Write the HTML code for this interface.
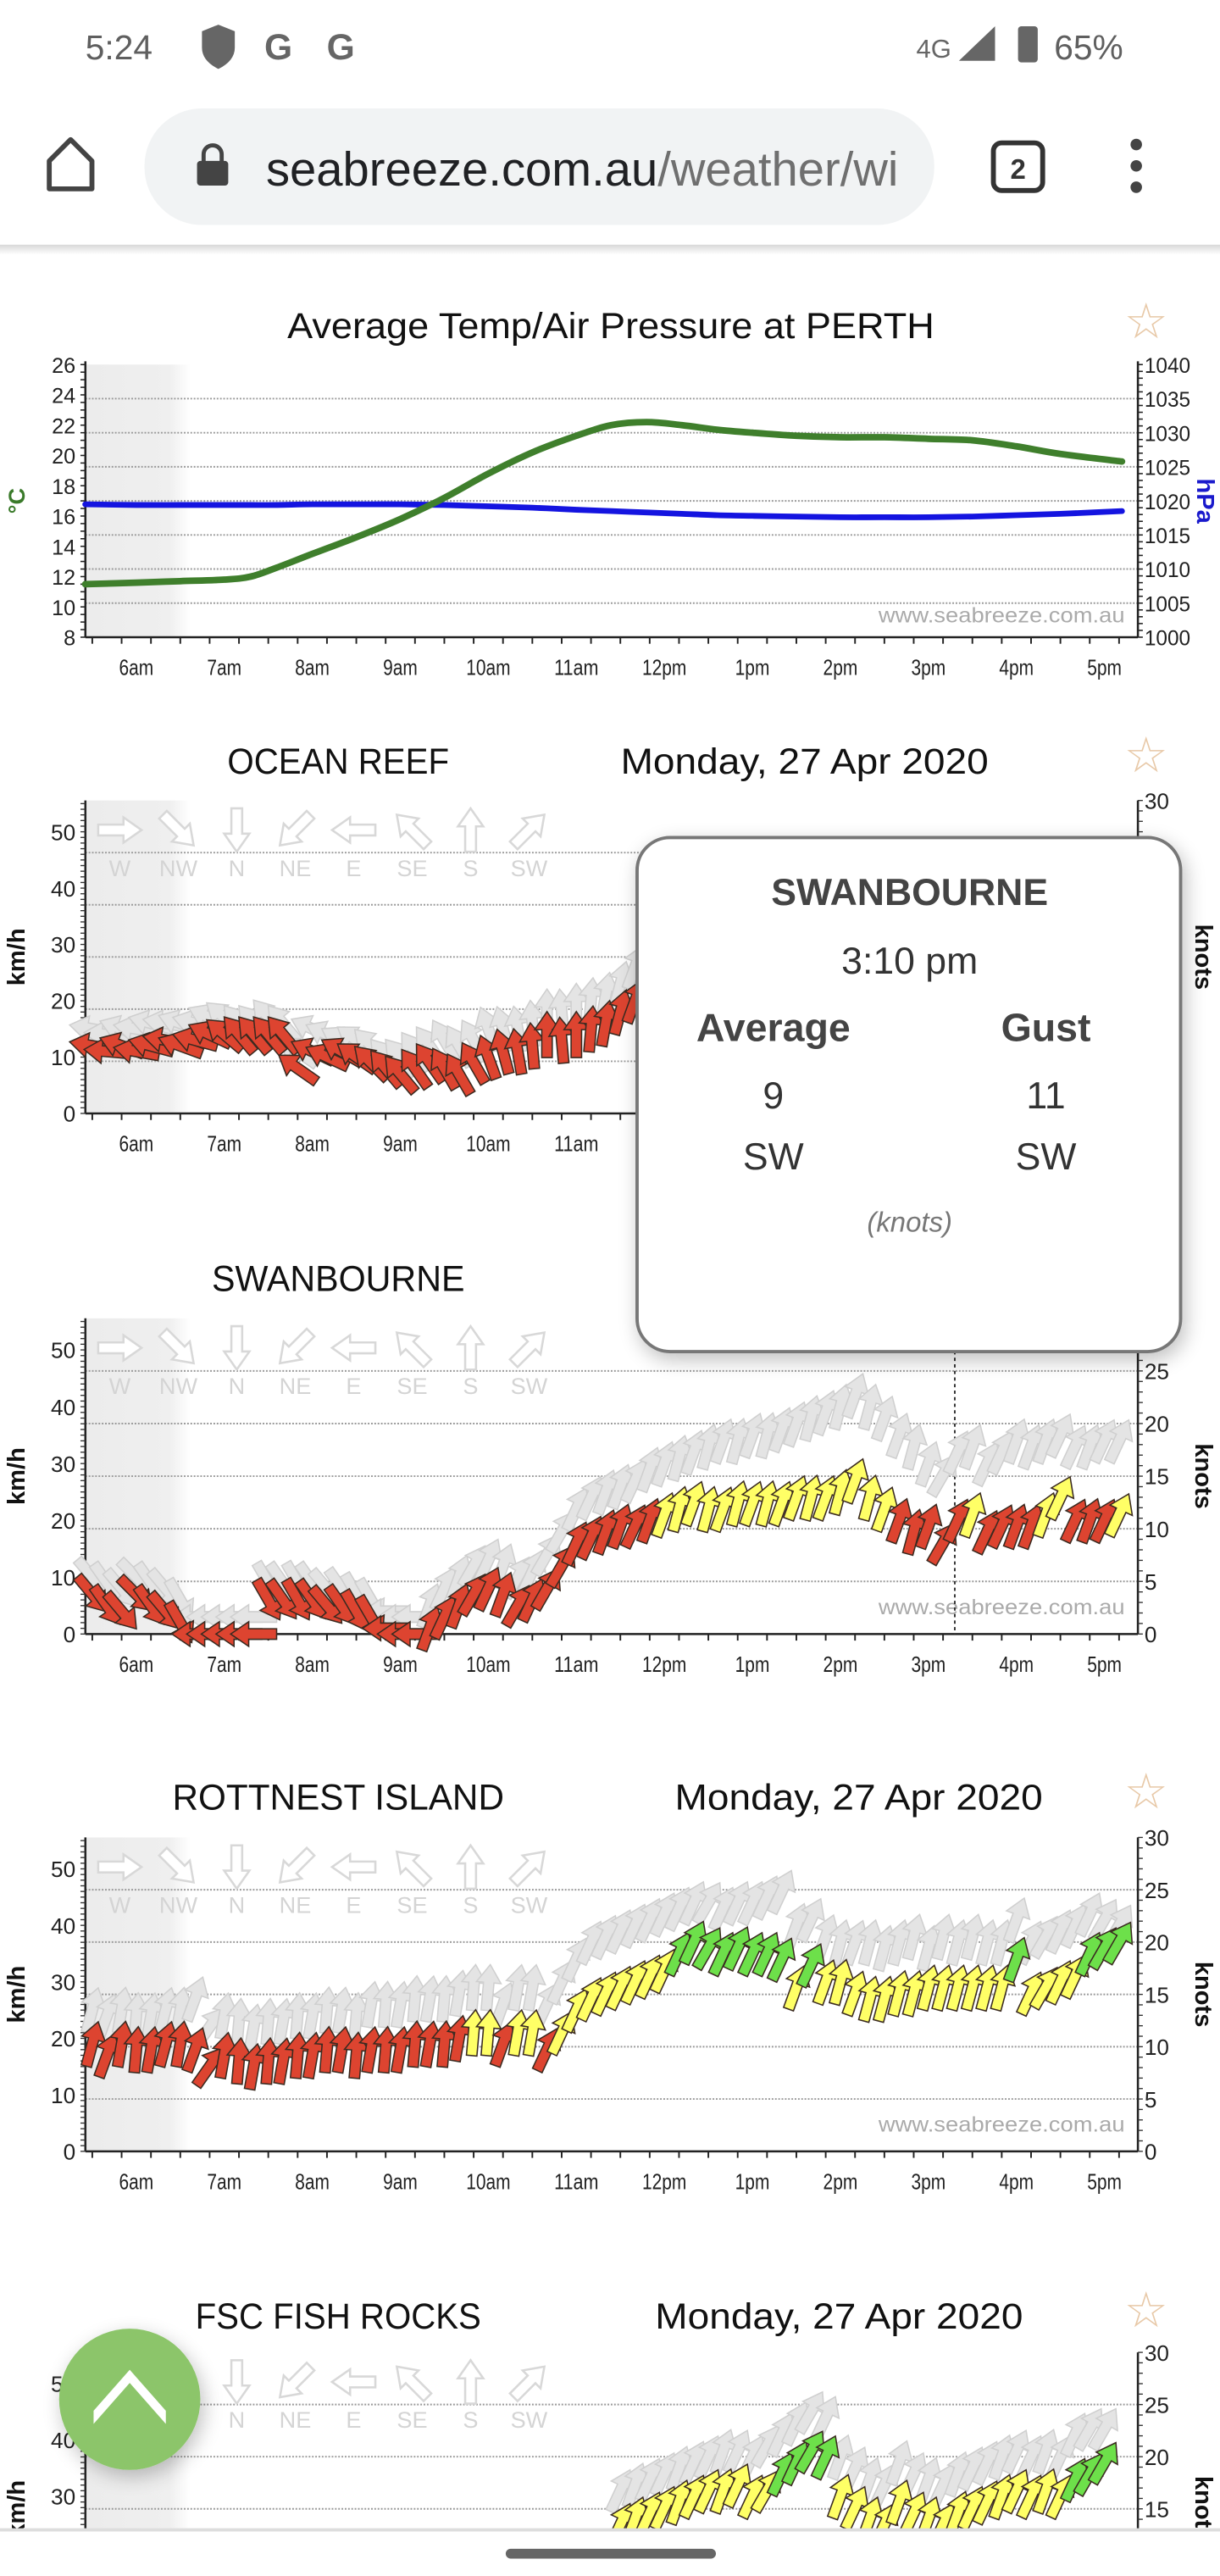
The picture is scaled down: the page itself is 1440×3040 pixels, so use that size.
<!DOCTYPE html>
<html><head><meta charset="utf-8">
<style>
html,body{margin:0;padding:0;background:#fff;width:1440px;height:3040px;overflow:hidden}
svg{display:block}
text{font-family:"Liberation Sans",sans-serif}
</style></head>
<body>
<svg id="page" width="1440" height="3040" viewBox="0 0 743 1568.6" preserveAspectRatio="none" xmlns="http://www.w3.org/2000/svg">
<defs>
  <linearGradient id="night" x1="0" x2="1" y1="0" y2="0">
    <stop offset="0" stop-color="#ececec"/><stop offset="0.8" stop-color="#efefef"/><stop offset="1" stop-color="#ffffff"/>
  </linearGradient>
  <linearGradient id="divider" x1="0" x2="0" y1="0" y2="1">
    <stop offset="0" stop-color="#d8d8d8"/><stop offset="1" stop-color="#ffffff"/>
  </linearGradient>
  <filter id="shadow" x="-20%" y="-20%" width="140%" height="140%">
    <feGaussianBlur in="SourceAlpha" stdDeviation="6"/><feOffset dx="2" dy="4"/>
    <feComponentTransfer><feFuncA type="linear" slope="0.25"/></feComponentTransfer>
    <feMerge><feMergeNode/><feMergeNode in="SourceGraphic"/></feMerge>
  </filter>
</defs>

<g>
  <text x="52" y="36" font-size="21" fill="#5f5f5f">5:24</text>
  <path d="M133,15 l10,4 v10 q0,8 -10,13 q-10,-5 -10,-13 v-10z" fill="#666"/>
  <text x="161" y="36" font-size="22" font-weight="bold" fill="#666">G</text>
  <text x="199" y="36" font-size="22" font-weight="bold" fill="#666">G</text>
  <text x="558" y="35" font-size="16" fill="#666">4G</text>
  <path d="M584,37 L606,16 V37z" fill="#666"/>
  <rect x="620" y="16" width="12" height="22" rx="2" fill="#666"/>
  <text x="642" y="36" font-size="21" fill="#5f5f5f">65%</text>
</g>

<g>
  <path d="M30,98 L43,85 L56,98 V115 H30z" fill="none" stroke="#444" stroke-width="3" stroke-linejoin="round"/>
  <rect x="88" y="66" width="481" height="71" rx="35" fill="#f1f3f4"/>
  <rect x="120" y="98" width="19" height="15" rx="2" fill="#444"/>
  <path d="M124,99 v-5 a5.5,5.5 0 0 1 11,0 v5" fill="none" stroke="#444" stroke-width="2.5"/>
  <text x="162" y="113" font-size="29"><tspan fill="#202124">seabreeze.com.au</tspan><tspan fill="#6f6f6f">/weather/wi</tspan></text>
  <rect x="605" y="87" width="30" height="29" rx="5" fill="none" stroke="#333" stroke-width="3"/>
  <text x="620" y="109" font-size="17" font-weight="bold" text-anchor="middle" fill="#333">2</text>
  <g fill="#444">
    <circle cx="692" cy="88" r="3.5"/><circle cx="692" cy="101" r="3.5"/><circle cx="692" cy="114" r="3.5"/>
  </g>
  <rect x="0" y="149" width="743" height="6" fill="url(#divider)"/>
</g>

<g id="charts"></g>
<g id="overlay"></g>
</svg>

<script>
const tempTimes = [5.42,6,6.5,7,7.3,7.6,8,8.5,9,9.5,10,10.5,11,11.4,11.8,12.2,12.6,13,13.5,14,14.5,15,15.5,16,16.5,17.2];
const tempValues = [11.5,11.6,11.7,11.8,12,12.6,13.5,14.6,15.8,17.2,18.8,20.2,21.3,22,22.2,22,21.7,21.5,21.3,21.2,21.2,21.1,21,20.6,20.1,19.6];
const pressureValues = [1019.5,1019.4,1019.4,1019.4,1019.4,1019.4,1019.5,1019.5,1019.5,1019.4,1019.2,1019,1018.7,1018.5,1018.3,1018.1,1017.9,1017.8,1017.7,1017.6,1017.6,1017.6,1017.7,1017.9,1018.1,1018.5];
const tempTicks = [8,10,12,14,16,18,20,22,24,26];
const pressureTicks = [1000,1005,1010,1015,1020,1025,1030,1035,1040];
const hourTicks = [6,7,8,9,10,11,12,13,14,15,16,17];
const hourLabels = ["6am","7am","8am","9am","10am","11am","12pm","1pm","2pm","3pm","4pm","5pm"];

const SAMPLE_STEP = 1/6;
const oceanStart = 5.5;
const oceanSpeed = [12,11,12,11,12,13,12,13,14,14,14,14,14,14,8,11,10,11,10,9,8,7,8,9,8,7,9,10,11,11,12,14,13,14,15,16,18,20];
const oceanDir = [100,95,110,100,105,100,110,105,115,130,140,140,140,140,125,115,115,120,125,135,140,140,145,145,150,150,150,160,165,170,175,180,175,180,185,190,195,200];
const oceanGust = [15,14,15,15,16,16,16,16,17,17,16,16,17,16,11,15,14,13,13,12,10,10,11,12,13,12,13,15,15,15,16,18,18,19,20,21,23,26];

const swanStart = 5.5;
const swanSpeed = [7,5,4,7,5,4,2,0,0,0,0,0,6,6,6,6,5,5,4,3,1,0,0,1,3,5,7,8,7,5,6,8,12,16,17,18,19,19,20,21,22,23,22,22,23,23,23,23,24,24,24,25,27,24,22,20,18,19,16,20,21,18,19,19,19,21,24,20,20,20,21];
const swanDir = [320,325,320,315,325,320,330,90,90,90,90,90,330,325,330,325,320,325,330,330,90,90,90,200,205,200,210,205,200,210,205,210,210,205,205,200,200,205,200,200,195,200,195,200,195,200,195,200,200,195,200,195,200,195,200,200,195,200,210,205,200,205,205,200,200,200,205,205,200,205,205];
const swanGust = [10,9,8,10,9,8,6,3,3,3,3,3,9,9,9,9,8,8,7,6,4,3,3,5,8,10,12,13,12,10,11,14,18,22,24,25,26,27,29,30,31,32,33,34,34,35,35,36,37,38,39,40,42,40,38,35,33,30,28,32,33,30,32,34,33,34,35,33,33,34,34];

const rottStart = 5.5;
const rottSpeed = [19,17,19,18,18,19,19,18,15,17,16,15,16,16,17,17,18,18,17,18,18,18,19,19,19,20,21,21,19,21,21,18,21,25,27,28,29,30,31,32,35,37,36,35,36,35,35,34,29,33,30,30,28,27,27,28,28,29,29,29,29,29,29,34,28,29,30,31,35,36,37];
const rottDir = [195,200,190,185,190,195,190,200,215,190,185,190,185,190,185,190,185,190,185,190,185,190,185,190,185,190,185,185,200,190,190,205,205,205,205,205,205,205,205,205,205,205,210,205,205,205,205,205,200,205,200,195,200,195,195,195,195,195,195,195,195,195,195,200,205,210,205,205,205,210,210];
const rottGust = [25,24,25,24,24,25,25,27,22,24,23,22,23,23,24,24,25,25,24,26,26,26,27,27,27,28,29,29,26,29,29,26,30,34,37,38,39,40,41,42,43,44,44,43,44,44,45,46,40,41,38,37,37,37,36,37,38,36,38,37,38,37,37,41,37,38,39,40,42,41,40];

const fishStart = 11.5;
const fishSpeed = [25,26,27,28,29,30,31,31,32,30,31,34,36,38,37,30,28,26,25,29,27,26,25,27,28,29,30,31,30,31,30,33,34,36];
const fishDir = [205,200,205,205,200,205,205,200,205,205,210,205,205,210,205,200,205,200,205,200,205,200,205,200,205,205,200,205,205,200,205,205,210,210];
const fishGust = [31,32,33,34,35,36,37,38,38,37,39,41,43,45,44,37,35,33,32,36,34,33,32,34,35,36,37,38,37,38,37,41,42,42];

const kmhTicks = [0,10,20,30,40,50];
const knotTicks = [0,5,10,15,20,25,30];
const legendDirs = [270,315,0,45,90,135,180,225];
const legendLabels = ["W","NW","N","NE","E","SE","S","SW"];

const NS = "http://www.w3.org/2000/svg";
const charts = document.getElementById('charts');
const overlay = document.getElementById('overlay');
const PLOT_L = 52, PLOT_R = 693;
function xOf(t){ return 83 + (t - 6) * 53.6; }
function mk(tag, parent, attrs){
  const e = document.createElementNS(NS, tag);
  for (const k in attrs) e.setAttribute(k, attrs[k]);
  parent.appendChild(e);
  return e;
}
function txt(parent, x, y, s, attrs){
  const e = mk('text', parent, Object.assign({x:x, y:y}, attrs||{}));
  e.textContent = s;
  return e;
}
const ARROW = "0,-14 7.5,-3 3.2,-3 3.2,14 -3.2,14 -3.2,-3 -7.5,-3";
const LEGEND_ARROW = "0,-12 7,-2 3,-2 3,12 -3,12 -3,-2 -7,-2";

function xAxis(g, yBase){
  const ax = mk('line', g, {x1:PLOT_L, x2:PLOT_R, y1:yBase, y2:yBase, stroke:'#222', 'stroke-width':1.3});
  
  
  for (let t = 5.5; t <= 17.35; t += 1/3){
    const major = Math.abs(t - Math.round(t)) < 0.01;
    mk('line', g, {x1:xOf(t), x2:xOf(t), y1:yBase, y2:yBase + (major?8:4), stroke:'#222', 'stroke-width':1});
  }
  hourTicks.forEach((h, i) => {
    const l = txt(g, xOf(h), yBase + 23, hourLabels[i], {'font-size':13.5, 'text-anchor':'middle', fill:'#222', 'textLength': hourLabels[i].length > 3 ? 27 : 21, lengthAdjust:'spacingAndGlyphs'});
    
    
  });
}

(function(){
  const g = mk('g', charts, {});
  
  
  const top = 222, bot = 388;
  const yT = v => bot - (v - 8) * (bot - top) / 18;
  const yP = v => bot - (v - 1000) * (bot - top) / 40;
  const title = txt(g, 372, 206, 'Average Temp/Air Pressure at PERTH', {'font-size':22, 'text-anchor':'middle', fill:'#111', textLength:394, lengthAdjust:'spacingAndGlyphs'});
  
  
  const night = mk('rect', g, {x:PLOT_L, y:top, width:64, height:bot-top, fill:'url(#night)'});
  
  
  pressureTicks.forEach(p => {
    if (p > 1000 && p < 1040){
      const gl = mk('line', g, {x1:PLOT_L, x2:PLOT_R, y1:yP(p), y2:yP(p), stroke:'#999', 'stroke-width':1, 'stroke-dasharray':'1 1'});
      
      
    }
  });
  const la = mk('line', g, {x1:PLOT_L, x2:PLOT_L, y1:top-2, y2:bot, stroke:'#222', 'stroke-width':1.3});
  
  
  const ra = mk('line', g, {x1:PLOT_R, x2:PLOT_R, y1:top-2, y2:bot, stroke:'#222', 'stroke-width':1.3});
  
  
  for (let v = 8; v <= 26; v += 0.5) mk('line', g, {x1:PLOT_L-3, x2:PLOT_L, y1:yT(v), y2:yT(v), stroke:'#222', 'stroke-width':0.8});
  for (let v = 1000; v <= 1040; v += 1) mk('line', g, {x1:PLOT_R, x2:PLOT_R+3, y1:yP(v), y2:yP(v), stroke:'#222', 'stroke-width':0.8});
  tempTicks.forEach(v => {
    const l = txt(g, 46, yT(v) + 5, String(v), {'font-size':13, 'text-anchor':'end', fill:'#222'});
    
    
  });
  pressureTicks.forEach(v => {
    const l = txt(g, 697, yP(v) + 5, String(v), {'font-size':13, fill:'#222', textLength:28, lengthAdjust:'spacingAndGlyphs'});
    
    
  });
  xAxis(g, bot);
  const yl = txt(g, 0, 0, '°C', {'font-size':14, 'font-weight':'bold', fill:'#3a7a2a', 'text-anchor':'middle', transform:'translate(15,305) rotate(-90)'});
  
  
  const yr = txt(g, 0, 0, 'hPa', {'font-size':15, 'font-weight':'bold', fill:'#1a1acc', 'text-anchor':'middle', transform:'translate(729,305) rotate(90)'});
  
  
  const wm = txt(g, 685, 379, 'www.seabreeze.com.au', {'font-size':13, fill:'#aaa', 'text-anchor':'end', textLength:150, lengthAdjust:'spacingAndGlyphs'});
  
  
  function smoothPath(ys){
    const pts = tempTimes.map((t, i) => [xOf(t), ys[i]]);
    let d = 'M' + pts[0][0] + ',' + pts[0][1];
    for (let i = 0; i < pts.length - 1; i++){
      const p0 = pts[Math.max(0, i-1)], p1 = pts[i], p2 = pts[i+1], p3 = pts[Math.min(pts.length-1, i+2)];
      const c1 = [p1[0] + (p2[0]-p0[0])/6, p1[1] + (p2[1]-p0[1])/6];
      const c2 = [p2[0] - (p3[0]-p1[0])/6, p2[1] - (p3[1]-p1[1])/6];
      d += ' C' + c1.join(',') + ' ' + c2.join(',') + ' ' + p2.join(',');
    }
    return d;
  }
  const pl = mk('path', g, {d:smoothPath(pressureValues.map(yP)), fill:'none', stroke:'#1414e0', 'stroke-width':3.5, 'stroke-linecap':'round'});
  
  
  const tl = mk('path', g, {d:smoothPath(tempValues.map(yT)), fill:'none', stroke:'#3f7f2c', 'stroke-width':4, 'stroke-linecap':'round'});
  
  
  const star = txt(g, 698, 206, '☆', {'font-size':30, 'text-anchor':'middle', fill:'#e8c9a8'});
  
  
})();

function windChart(cfg){
  const g = mk('g', charts, {});
  
  
  const y0 = cfg.y0, s = cfg.scale;
  const yK = v => y0 - v * s;
  const top = yK(55.56);
  const t1 = txt(g, 206, cfg.titleY, cfg.title, {'font-size':22, 'text-anchor':'middle', fill:'#111', textLength:cfg.titleW, lengthAdjust:'spacingAndGlyphs'});
  
  
  if (cfg.date){
    const t2 = txt(g, cfg.dateX, cfg.titleY, 'Monday, 27 Apr 2020', {'font-size':22, 'text-anchor':'middle', fill:'#111', textLength:224, lengthAdjust:'spacingAndGlyphs'});
    
    
  }
  const star = txt(g, 698, cfg.titleY - 1, '☆', {'font-size':30, 'text-anchor':'middle', fill:'#e8c9a8'});
  
  
  const night = mk('rect', g, {x:PLOT_L, y:top, width:64, height:y0-top, fill:'url(#night)'});
  
  
  knotTicks.forEach(k => {
    if (k > 0 && k < 30){
      const gl = mk('line', g, {x1:PLOT_L, x2:PLOT_R, y1:yK(k*1.852), y2:yK(k*1.852), stroke:'#999', 'stroke-width':1, 'stroke-dasharray':'1 1'});
      
      
    }
  });
  legendDirs.forEach((d, i) => {
    const lx = 73 + i * 35.6;
    const a = mk('polygon', g, {points:LEGEND_ARROW, fill:'#fff', stroke:'#d8d8d8', 'stroke-width':1.2, transform:'translate(' + lx + ',' + (top + 18) + ') rotate(' + (d + 180) + ') scale(1.1)'});
    
    
    const l = txt(g, lx, top + 46, legendLabels[i], {'font-size':14, 'text-anchor':'middle', fill:'#d4d4d4'});
    
    
  });
  const la = mk('line', g, {x1:PLOT_L, x2:PLOT_L, y1:top, y2:y0, stroke:'#222', 'stroke-width':1.3});
  
  
  const ra = mk('line', g, {x1:PLOT_R, x2:PLOT_R, y1:top, y2:y0, stroke:'#222', 'stroke-width':1.3});
  
  
  for (let v = 0; v <= 55; v += 1) mk('line', g, {x1:PLOT_L-3, x2:PLOT_L, y1:yK(v), y2:yK(v), stroke:'#333', 'stroke-width':0.7});
  for (let k = 0; k <= 30; k += 1) mk('line', g, {x1:PLOT_R, x2:PLOT_R+3, y1:yK(k*1.852), y2:yK(k*1.852), stroke:'#333', 'stroke-width':0.7});
  kmhTicks.forEach(v => {
    const l = txt(g, 46, yK(v) + 5, String(v), {'font-size':13.5, 'text-anchor':'end', fill:'#222'});
    
    
  });
  knotTicks.forEach(k => {
    const l = txt(g, 697, yK(k*1.852) + 5, String(k), {'font-size':13.5, fill:'#222'});
    
    
  });
  xAxis(g, y0);
  const ymid = (top + y0) / 2;
  const yl = txt(g, 0, 0, 'km/h', {'font-size':15, 'font-weight':'bold', fill:'#111', 'text-anchor':'middle', transform:'translate(15,' + ymid + ') rotate(-90)'});
  
  
  const yr = txt(g, 0, 0, 'knots', {'font-size':15, 'font-weight':'bold', fill:'#111', 'text-anchor':'middle', transform:'translate(728,' + ymid + ') rotate(90)'});
  
  
  const wm = txt(g, 685, y0 - 12, 'www.seabreeze.com.au', {'font-size':13, fill:'#aaa', 'text-anchor':'end', textLength:150, lengthAdjust:'spacingAndGlyphs'});
  
  
  if (cfg.cursorT){
    const cl = mk('line', g, {x1:xOf(cfg.cursorT), x2:xOf(cfg.cursorT), y1:top, y2:y0, stroke:'#333', 'stroke-width':1, 'stroke-dasharray':'2 2'});
    
    
  }
  cfg.gust.forEach((v, i) => {
    const t = cfg.start + i * SAMPLE_STEP;
    const a = mk('polygon', g, {points:ARROW, fill:'#e4e4e4', stroke:'#cfcfcf', 'stroke-width':0.8, transform:'translate(' + xOf(t) + ',' + yK(v) + ') rotate(' + (cfg.dir[i] + 180) + ')'});
    
    
  });
  cfg.speed.forEach((v, i) => {
    const t = cfg.start + i * SAMPLE_STEP;
    const col = v < 21 ? '#dd4430' : (v < 33 ? '#ffff66' : '#6de04a');
    const a = mk('polygon', g, {points:ARROW, fill:col, stroke:'#3a2a20', 'stroke-width':0.8, transform:'translate(' + xOf(t) + ',' + yK(v) + ') rotate(' + (cfg.dir[i] + 180) + ')'});
    
    
  });
}

windChart({name:'ocean-reef-chart', title:'OCEAN REEF', titleW:135, date:true, dateX:490, titleY:471, y0:678, scale:3.43, start:oceanStart, speed:oceanSpeed, dir:oceanDir, gust:oceanGust});
windChart({name:'swanbourne-chart', title:'SWANBOURNE', titleW:154, date:false, dateX:490, titleY:786, y0:995, scale:3.46, start:swanStart, speed:swanSpeed, dir:swanDir, gust:swanGust, cursorT:15.3});
windChart({name:'rottnest-island-chart', title:'ROTTNEST ISLAND', titleW:202, date:true, dateX:523, titleY:1102, y0:1310, scale:3.44, start:rottStart, speed:rottSpeed, dir:rottDir, gust:rottGust});
windChart({name:'fsc-fish-rocks-chart', title:'FSC FISH ROCKS', titleW:174, date:true, dateX:511, titleY:1418, y0:1623, scale:3.43, start:fishStart, speed:fishSpeed, dir:fishDir, gust:fishGust});

(function(){
  const tip = mk('g', overlay, {});
  
  
  const r = mk('rect', tip, {x:388, y:510, width:331, height:313, rx:20, fill:'#fff', stroke:'#777', 'stroke-width':2, filter:'url(#shadow)'});
  
  
  const rows = [
    ['SWANBOURNE', 554, 551, 23, '600', '#444', 'normal', 'tooltip-station'],
    ['3:10 pm', 554, 593, 23, 'normal', '#333', 'normal', 'tooltip-time'],
    ['Average', 471, 634, 24, '600', '#444', 'normal', 'tooltip-average-header'],
    ['Gust', 637, 634, 24, '600', '#444', 'normal', 'tooltip-gust-header'],
    ['9', 471, 675, 23, 'normal', '#333', 'normal', 'tooltip-average-speed'],
    ['11', 637, 675, 23, 'normal', '#333', 'normal', 'tooltip-gust-speed'],
    ['SW', 471, 712, 23, 'normal', '#333', 'normal', 'tooltip-average-direction'],
    ['SW', 637, 712, 23, 'normal', '#333', 'normal', 'tooltip-gust-direction'],
    ['(knots)', 554, 750, 17, 'normal', '#777', 'italic', 'tooltip-units']
  ];
  rows.forEach(rw => {
    const t = txt(tip, rw[1], rw[2], rw[0], {'font-size':rw[3], 'font-weight':rw[4], fill:rw[5], 'font-style':rw[6], 'text-anchor':'middle'});
    
    
  });

  const btn = mk('g', overlay, {});
  
  
  mk('circle', btn, {cx:79, cy:1461, r:43, fill:'#8cc56b', filter:'url(#shadow)'});
  mk('path', btn, {d:'M57,1476 L79,1451 L101,1476 L101,1468 L79,1443 L57,1468 Z', fill:'#fff'});

  const nav = mk('g', overlay, {});
  
  
  mk('rect', nav, {x:0, y:1540, width:743, height:28.6, fill:'#fff'});
  mk('line', nav, {x1:0, x2:743, y1:1540.5, y2:1540.5, stroke:'#ddd', 'stroke-width':2});
  const pill = mk('rect', nav, {x:308, y:1552, width:128, height:6, rx:3, fill:'#666'});
  
  
})();
</script>
</body></html>
